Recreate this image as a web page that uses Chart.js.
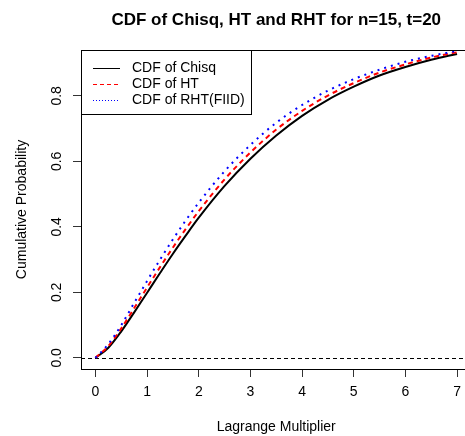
<!DOCTYPE html>
<html>
<head>
<meta charset="utf-8">
<script src="https://cdn.jsdelivr.net/npm/chart.js@4.4.0/dist/chart.umd.min.js"></script>
<style>
  html, body { margin: 0; padding: 0; background: #fff; overflow: hidden; }
  #wrap { width: 480px; height: 436px; }
</style>
</head>
<body>
<div id="wrap"><canvas id="cdfChart" width="480" height="436"></canvas></div>
<script>
// valeurs
const xVals   = [0, 0.25, 0.5, 0.75, 1, 1.25, 1.5, 1.75, 2, 2.5, 3, 3.5, 4, 4.5, 5, 5.5, 6, 6.5, 7];
const chisqCdf = [0, 0.031, 0.081, 0.139, 0.199, 0.259, 0.318, 0.374, 0.428, 0.525, 0.608, 0.679, 0.739, 0.788, 0.828, 0.862, 0.888, 0.910, 0.928];
const htCdf    = [0, 0.036, 0.090, 0.152, 0.215, 0.277, 0.337, 0.394, 0.448, 0.545, 0.627, 0.697, 0.754, 0.801, 0.839, 0.871, 0.896, 0.917, 0.933];
const rhtCdf   = [0, 0.042, 0.100, 0.168, 0.235, 0.300, 0.362, 0.420, 0.474, 0.570, 0.650, 0.718, 0.772, 0.816, 0.851, 0.880, 0.904, 0.922, 0.937];
const xTicks = [0, 1, 2, 3, 4, 5, 6, 7];
const yTicks = [0, 0.2, 0.4, 0.6, 0.8];
const seriesLabels = ['CDF of Chisq', 'CDF of HT', 'CDF of RHT(FIID)'];

const FONT = '"Liberation Sans", Arial, sans-serif';

function toPoints(ys) {
    return xVals.map((x, i) => ({ x: x, y: ys[i] }));
}

// boite, ligne y=0, labels y tournes, legende encadree
const rPlotStyle = {
    id: 'rPlotStyle',
    beforeDatasetsDraw(chart) {
        const ctx = chart.ctx;
        const a = chart.chartArea;
        const y0 = chart.scales.y.getPixelForValue(0);
        ctx.save();
        ctx.strokeStyle = '#000';
        ctx.lineWidth = 1;
        ctx.setLineDash([4, 3]);
        ctx.beginPath();
        ctx.moveTo(a.left, Math.round(y0) + 0.5);
        ctx.lineTo(a.right, Math.round(y0) + 0.5);
        ctx.stroke();
        ctx.restore();
    },
    afterDatasetsDraw(chart) {
        const ctx = chart.ctx;
        const a = chart.chartArea;
        const ys = chart.scales.y;
        ctx.save();
        // cadre
        ctx.strokeStyle = '#000';
        ctx.lineWidth = 1;
        ctx.strokeRect(Math.round(a.left) + 0.5, Math.round(a.top) + 0.5,
                       Math.round(a.right - a.left), Math.round(a.bottom - a.top));

        // labels de l'axe y
        ctx.fillStyle = '#000';
        ctx.font = '14px ' + FONT;
        ctx.textAlign = 'center';
        ctx.textBaseline = 'middle';
        yTicks.forEach(v => {
            const py = ys.getPixelForValue(v);
            ctx.save();
            ctx.translate(57, py);
            ctx.rotate(-Math.PI / 2);
            ctx.fillText(v.toFixed(1), 0, 0);
            ctx.restore();
        });

        // legende
        const lx = Math.round(a.left) + 0.5, ly = Math.round(a.top) + 0.5;
        const lw = 170, lh = 64;
        ctx.fillStyle = '#fff';
        ctx.fillRect(lx, ly, lw, lh);
        ctx.strokeStyle = '#000';
        ctx.setLineDash([]);
        ctx.strokeRect(lx, ly, lw, lh);
        const rows = [68, 84, 100];
        const dashes = [[], [4, 3], [1, 2]];
        chart.data.datasets.forEach((ds, i) => {
            ctx.strokeStyle = ds.borderColor;
            ctx.lineWidth = 1;
            ctx.setLineDash(dashes[i]);
            ctx.beginPath();
            ctx.moveTo(a.left + 12, rows[i] + 0.5);
            ctx.lineTo(a.left + 39, rows[i] + 0.5);
            ctx.stroke();
            ctx.fillStyle = '#000';
            ctx.textAlign = 'left';
            ctx.textBaseline = 'middle';
            ctx.fillText(ds.label, a.left + 51, rows[i]);
        });
        ctx.restore();
    }
};

document.addEventListener('DOMContentLoaded', function() {
    const ctx = document.getElementById('cdfChart').getContext('2d');
    new Chart(ctx, {
        type: 'line',
        data: {
            datasets: [{
                label: seriesLabels[0],
                data: toPoints(chisqCdf),
                borderColor: '#000000',
                borderWidth: 2,
                order: 3
            }, {
                label: seriesLabels[1],
                data: toPoints(htCdf),
                borderColor: '#ff0000',
                borderWidth: 2,
                borderDash: [5, 4],
                order: 2
            }, {
                label: seriesLabels[2],
                data: toPoints(rhtCdf),
                borderColor: '#0000ff',
                borderWidth: 2,
                borderDash: [2, 5],
                order: 1
            }]
        },
        options: {
            responsive: false,
            animation: false,
            events: [],
            layout: { padding: { left: 0, right: 8.5, top: 0, bottom: 0 } },
            elements: {
                point: { radius: 0 },
                line: { cubicInterpolationMode: 'monotone', fill: false }
            },
            plugins: {
                legend: { display: false },
                tooltip: { enabled: false },
                title: {
                    display: true,
                    text: 'CDF of Chisq, HT and RHT for n=15, t=20',
                    color: '#000',
                    fullSize: false,
                    font: { family: FONT, size: 17, weight: 'bold' },
                    padding: { top: 10, bottom: 19.6 }
                }
            },
            scales: {
                x: {
                    type: 'linear',
                    min: -0.28,
                    max: 7.28,
                    afterBuildTicks: s => { s.ticks = xTicks.map(v => ({ value: v })); },
                    afterFit: s => { s.height = 67; },
                    border: { display: false },
                    grid: { drawOnChartArea: false, drawTicks: true, tickLength: 8, color: '#333' },
                    ticks: { color: '#000', padding: 7, maxRotation: 0, font: { family: FONT, size: 14 } },
                    title: {
                        display: true,
                        text: 'Lagrange Multiplier',
                        color: '#000',
                        font: { family: FONT, size: 14 },
                        padding: { top: 0, bottom: 0.6 }
                    }
                },
                y: {
                    type: 'linear',
                    min: -0.034,
                    max: 0.94,
                    afterBuildTicks: s => { s.ticks = yTicks.map(v => ({ value: v })); },
                    afterFit: s => { s.width = 81; },
                    border: { display: false },
                    grid: { drawOnChartArea: false, drawTicks: true, tickLength: 8, color: '#333' },
                    ticks: { display: false },
                    title: {
                        display: true,
                        text: 'Cumulative Probability',
                        color: '#000',
                        font: { family: FONT, size: 14 },
                        padding: { top: 13.6, bottom: 0 }
                    }
                }
            }
        },
        plugins: [rPlotStyle]
    });
});
</script>
</body>
</html>
